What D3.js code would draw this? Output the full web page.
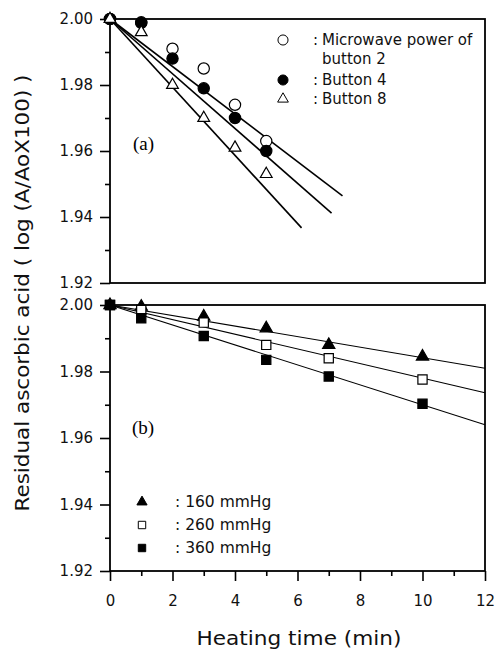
<!DOCTYPE html>
<html>
<head>
<meta charset="utf-8">
<script src="https://cdn.jsdelivr.net/npm/d3@7"></script>
<style>
  body { margin: 0; background: #fff; }
  svg { display: block; font-family: "DejaVu Sans", "Liberation Sans", Arial, sans-serif; }
</style>
</head>
<body>
<div id="chart"></div>
<script>
// panel (a): microwave power
const timeA = [0, 1, 2, 3, 4, 5];
const button2 = [2.000, 1.999, 1.991, 1.985, 1.974, 1.963];
const button4 = [2.000, 1.9988, 1.988, 1.979, 1.970, 1.960];
const button8 = [2.000, 1.996, 1.980, 1.970, 1.961, 1.953];
// fitted lines (start / end)
const fitA = [
  { name: 'button2', x: [0, 7.44], y: [2.000, 1.9464] },
  { name: 'button4', x: [0, 7.09], y: [2.000, 1.9412] },
  { name: 'button8', x: [0, 6.13], y: [2.000, 1.9367] },
];

// panel (b): vacuum pressure
const timeB = [0, 1, 3, 5, 7, 10];
const mmHg160 = [2.000, 1.9995, 1.9965, 1.993, 1.988, 1.9845];
const mmHg260 = [2.000, 1.9985, 1.9947, 1.988, 1.984, 1.9776];
const mmHg360 = [2.000, 1.996, 1.9907, 1.9835, 1.9785, 1.9703];
const fitB = [
  { name: '160', x: [0, 12], y: [2.000, 1.981] },
  { name: '260', x: [0, 12], y: [2.000, 1.9736] },
  { name: '360', x: [0, 12], y: [2.000, 1.964] },
];

const yTicks = [1.92, 1.94, 1.96, 1.98, 2.00];
const yMinor = [1.93, 1.95, 1.97, 1.99];
const xTicks = [0, 2, 4, 6, 8, 10, 12];
const xMinor = [1, 3, 5, 7, 9, 11];

const width = 504;
const height = 650;
const font = '"DejaVu Sans", "Liberation Sans", Arial, sans-serif';

const svg = d3.select('#chart')
  .append('svg')
  .attr('width', width)
  .attr('height', height);

const x = d3.scaleLinear().domain([0, 12]).range([110, 485]);
const yA = d3.scaleLinear().domain([1.92, 2.00]).range([283, 19]);
const yB = d3.scaleLinear().domain([1.92, 2.00]).range([571, 305]);

const symbol = (type, size) => d3.symbol().type(type).size(size)();

const drawFrame = (y) => {
  svg.append('rect')
    .attr('x', x(0))
    .attr('y', y(2.00))
    .attr('width', x(12) - x(0))
    .attr('height', y(1.92) - y(2.00))
    .attr('fill', 'none')
    .attr('stroke', '#000')
    .attr('stroke-width', 1.8);

  const yAxis = svg.append('g')
    .attr('transform', `translate(${x(0)},0)`)
    .call(d3.axisLeft(y).tickValues(yTicks).tickSize(10).tickPadding(7).tickFormat(d3.format('.2f')));
  yAxis.select('.domain').remove();
  yAxis.selectAll('text').attr('font-size', 15).attr('font-family', font).attr('fill', '#111');
  yAxis.selectAll('line').attr('stroke-width', 1.6);

  const yMin = svg.append('g')
    .attr('transform', `translate(${x(0)},0)`)
    .call(d3.axisLeft(y).tickValues(yMinor).tickSize(5).tickFormat(''));
  yMin.select('.domain').remove();
  yMin.selectAll('line').attr('stroke-width', 1.6);
};

drawFrame(yA);
drawFrame(yB);

// bottom x axis
const xAxis = svg.append('g')
  .attr('transform', `translate(0,${yB(1.92)})`)
  .call(d3.axisBottom(x).tickValues(xTicks).tickSize(10).tickPadding(14).tickFormat(d3.format('d')));
xAxis.select('.domain').remove();
xAxis.selectAll('text').attr('font-size', 15).attr('font-family', font).attr('fill', '#111');
xAxis.selectAll('line').attr('stroke-width', 1.6);

const xMin = svg.append('g')
  .attr('transform', `translate(0,${yB(1.92)})`)
  .call(d3.axisBottom(x).tickValues(xMinor).tickSize(5).tickFormat(''));
xMin.select('.domain').remove();
xMin.selectAll('line').attr('stroke-width', 1.6);

// axis titles
svg.append('text')
  .attr('x', 299)
  .attr('y', 645)
  .attr('text-anchor', 'middle')
  .attr('font-size', 20)
  .attr('textLength', 205)
  .attr('lengthAdjust', 'spacingAndGlyphs')
  .attr('fill', '#111')
  .text('Heating time (min)');

svg.append('text')
  .attr('transform', 'translate(29,293) rotate(-90)')
  .attr('text-anchor', 'middle')
  .attr('font-size', 19)
  .attr('textLength', 437)
  .attr('lengthAdjust', 'spacingAndGlyphs')
  .attr('fill', '#111')
  .text('Residual ascorbic acid ( log (A/AoX100) )');

// fitted lines
const line = d3.line();

svg.selectAll('.fit-a')
  .data(fitA)
  .enter()
  .append('path')
  .attr('class', 'fit-a')
  .attr('d', (d) => line(d.x.map((v, i) => [x(v), yA(d.y[i])])))
  .attr('fill', 'none')
  .attr('stroke', '#000')
  .attr('stroke-width', 1.6);

svg.selectAll('.fit-b')
  .data(fitB)
  .enter()
  .append('path')
  .attr('class', 'fit-b')
  .attr('d', (d) => line(d.x.map((v, i) => [x(v), yB(d.y[i])])))
  .attr('fill', 'none')
  .attr('stroke', '#000')
  .attr('stroke-width', 1.1);

// markers
const seriesA = [
  { values: button2, type: d3.symbolCircle, size: 100, fill: '#fff' },
  { values: button4, type: d3.symbolCircle, size: 100, fill: '#000' },
  { values: button8, type: d3.symbolTriangle, size: 60, fill: '#fff' },
];
const seriesB = [
  { values: mmHg160, type: d3.symbolTriangle, size: 65, fill: '#000' },
  { values: mmHg260, type: d3.symbolSquare, size: 85, fill: '#fff' },
  { values: mmHg360, type: d3.symbolSquare, size: 85, fill: '#000' },
];

seriesA.forEach((s) => {
  svg.append('g')
    .selectAll('path')
    .data(s.values)
    .enter()
    .append('path')
    .attr('transform', (d, i) => `translate(${x(timeA[i])},${yA(d)})`)
    .attr('d', symbol(s.type, s.size))
    .attr('fill', s.fill)
    .attr('stroke', '#000')
    .attr('stroke-width', 1.2);
});

seriesB.forEach((s) => {
  svg.append('g')
    .selectAll('path')
    .data(s.values)
    .enter()
    .append('path')
    .attr('transform', (d, i) => `translate(${x(timeB[i])},${yB(d)})`)
    .attr('d', symbol(s.type, s.size))
    .attr('fill', s.fill)
    .attr('stroke', '#000')
    .attr('stroke-width', 1.2);
});

// panel labels
svg.append('text')
  .attr('x', 133)
  .attr('y', 150)
  .attr('font-family', '"Liberation Serif", "Times New Roman", serif')
  .attr('font-size', 19)
  .text('(a)');

svg.append('text')
  .attr('x', 132)
  .attr('y', 434)
  .attr('font-family', '"Liberation Serif", "Times New Roman", serif')
  .attr('font-size', 19)
  .text('(b)');

// legend (a)
const legendA = [
  { lines: ['Microwave power of', 'button 2'], type: d3.symbolCircle, size: 80, fill: '#fff', y: 40 },
  { lines: ['Button 4'], type: d3.symbolCircle, size: 80, fill: '#000', y: 80 },
  { lines: ['Button 8'], type: d3.symbolTriangle, size: 50, fill: '#fff', y: 99 },
];
legendA.forEach((d) => {
  svg.append('path')
    .attr('transform', `translate(283,${d.y})`)
    .attr('d', symbol(d.type, d.size))
    .attr('fill', d.fill)
    .attr('stroke', '#000')
    .attr('stroke-width', 1);
  svg.append('text')
    .attr('x', 313)
    .attr('y', d.y + 5)
    .attr('font-size', 15)
    .attr('fill', '#111')
    .text(':');
  d.lines.forEach((t, i) => {
    svg.append('text')
      .attr('x', 322)
      .attr('y', d.y + 5 + i * 19)
      .attr('font-size', 15)
      .attr('fill', '#111')
      .text(t);
  });
});

// legend (b)
const legendB = [
  { label: ': 160 mmHg', type: d3.symbolTriangle, size: 45, fill: '#000', y: 502 },
  { label: ': 260 mmHg', type: d3.symbolSquare, size: 55, fill: '#fff', y: 525 },
  { label: ': 360 mmHg', type: d3.symbolSquare, size: 55, fill: '#000', y: 548 },
];
legendB.forEach((d) => {
  svg.append('path')
    .attr('transform', `translate(142,${d.y})`)
    .attr('d', symbol(d.type, d.size))
    .attr('fill', d.fill)
    .attr('stroke', '#000')
    .attr('stroke-width', 1);
  svg.append('text')
    .attr('x', 175)
    .attr('y', d.y + 5)
    .attr('font-size', 15.5)
    .attr('fill', '#111')
    .text(d.label);
});
</script>
</body>
</html>
